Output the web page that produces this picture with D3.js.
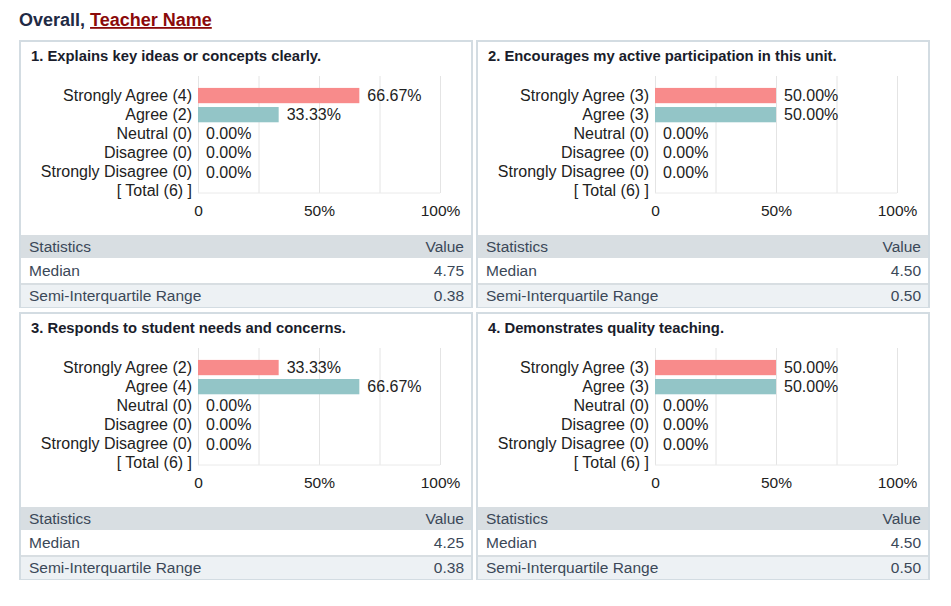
<!DOCTYPE html>
<html>
<head>
<meta charset="utf-8">
<script src="https://cdn.jsdelivr.net/npm/d3@7"></script>
<style>
  html, body { margin: 0; padding: 0; background: #fff; }
  svg { display: block; font-family: "Liberation Sans", Arial, sans-serif; }
  .grid line { stroke: #e4e4e4; }
  .grid path { display: none; }
  .cat-axis path, .cat-axis line { display: none; }
  .cat-axis text { font-size: 16px; fill: #222; }
  .x-axis path, .x-axis line { display: none; }
  .x-axis text { font-size: 15.5px; fill: #222; }
</style>
</head>
<body>
<div id="chart"></div>
<script>
/* ── DATA ── */
const categories = ['Strongly Agree', 'Agree', 'Neutral', 'Disagree', 'Strongly Disagree'];
const questions  = [
  '1. Explains key ideas or concepts clearly.',
  '2. Encourages my active participation in this unit.',
  '3. Responds to student needs and concerns.',
  '4. Demonstrates quality teaching.'
];
const counts  = [[4, 2, 0, 0, 0], [3, 3, 0, 0, 0], [2, 4, 0, 0, 0], [3, 3, 0, 0, 0]];
const totals  = [6, 6, 6, 6];
const medians = ['4.75', '4.50', '4.25', '4.50'];
const siqrs   = ['0.38', '0.50', '0.38', '0.50'];
const xTicks  = [0, 0.5, 1];
const xTickLabels = ['0', '50%', '100%'];
const gridTicks = [0, 0.25, 0.5, 0.75, 1];

const COLORS = ['#f88b8b', '#93c5c7'];

/* ── LAYOUT ── */
const W = 951, H = 606;
const PW = 454, PH = 268;
const panelPos = [[19, 40], [476, 40], [19, 312], [476, 312]];

const svg = d3.select('#chart').append('svg').attr('width', W).attr('height', H);

// heading
const head = svg.append('text').attr('x', 19).attr('y', 26)
  .attr('font-size', 18).attr('font-weight', 'bold');
head.append('tspan').attr('fill', '#1f2b45').text('Overall, ');
head.append('tspan').attr('fill', '#8b0a0a').attr('text-decoration', 'underline').text('Teacher Name');

const x = d3.scaleLinear().domain([0, 1]).range([179, 421]);

questions.forEach((q, qi) => {
  const [px, py] = panelPos[qi];
  const g = svg.append('g').attr('transform', `translate(${px},${py})`);
  const total = totals[qi];
  const rows = categories.map((c, i) => ({ label: `${c} (${counts[qi][i]})`, value: counts[qi][i] / total, i }));
  const labels = rows.map(r => r.label).concat([`[ Total (${total}) ]`]);

  const y = d3.scaleBand().domain(labels).range([46, 160.6]).paddingInner(0.2).paddingOuter(0.1);

  // panel frame
  g.append('rect').attr('x', 1).attr('y', 1).attr('width', PW - 2).attr('height', PH - 2)
    .attr('fill', '#fff').attr('stroke', '#d3dce2').attr('stroke-width', 2);

  // title
  g.append('text').attr('x', 12).attr('y', 21).attr('font-size', 14.8).attr('font-weight', 'bold')
    .attr('fill', '#1a1d2b').text(q);

  // grid
  g.append('g').attr('class', 'grid').attr('transform', 'translate(0,36)')
    .call(d3.axisBottom(x).tickValues(gridTicks).tickSize(117).tickFormat(''));
  g.append('line').attr('x1', x(0)).attr('x2', x(1)).attr('y1', 153).attr('y2', 153)
    .attr('stroke', '#eaeaea');

  // bars
  g.selectAll('.bar').data(rows).enter().append('rect')
    .attr('class', 'bar')
    .attr('x', x(0)).attr('y', d => y(d.label))
    .attr('width', d => x(d.value) - x(0))
    .attr('height', y.bandwidth())
    .attr('fill', d => COLORS[d.i] || '#ccc');

  // value labels
  g.selectAll('.val').data(rows).enter().append('text')
    .attr('x', d => x(d.value) + 8)
    .attr('y', d => y(d.label) + y.bandwidth() / 2)
    .attr('dy', '0.35em').attr('font-size', 16).attr('fill', '#222')
    .text(d => (d.value * 100).toFixed(2) + '%');

  // axes
  g.append('g').attr('class', 'cat-axis').attr('transform', `translate(${x(0)},0)`)
    .call(d3.axisLeft(y).tickSize(0).tickPadding(6));
  g.append('g').attr('class', 'x-axis').attr('transform', 'translate(0,160)')
    .call(d3.axisBottom(x).tickValues(xTicks).tickSize(0).tickPadding(4.5)
      .tickFormat((d, i) => xTickLabels[i]));

  // statistics table
  const tRows = [
    { a: 'Statistics', b: 'Value', y: 195, h: 23, fill: '#d8dee2' },
    { a: 'Median', b: medians[qi], y: 219, h: 24, fill: '#ffffff' },
    { a: 'Semi-Interquartile Range', b: siqrs[qi], y: 245, h: 22, fill: '#edf1f4' }
  ];
  tRows.forEach(r => {
    g.append('rect').attr('x', 2).attr('y', r.y).attr('width', PW - 4).attr('height', r.h).attr('fill', r.fill);
    g.append('text').attr('x', 10).attr('y', r.y + r.h / 2).attr('dy', '0.35em')
      .attr('font-size', 15.5).attr('fill', '#3b4858').text(r.a);
    g.append('text').attr('x', PW - 9).attr('y', r.y + r.h / 2).attr('dy', '0.35em')
      .attr('text-anchor', 'end').attr('font-size', 15.5).attr('fill', '#3b4858').text(r.b);
  });
  g.append('line').attr('x1', 2).attr('x2', PW - 2).attr('y1', 244).attr('y2', 244)
    .attr('stroke', '#d8dee2').attr('stroke-width', 2);
});
</script>
</body>
</html>
